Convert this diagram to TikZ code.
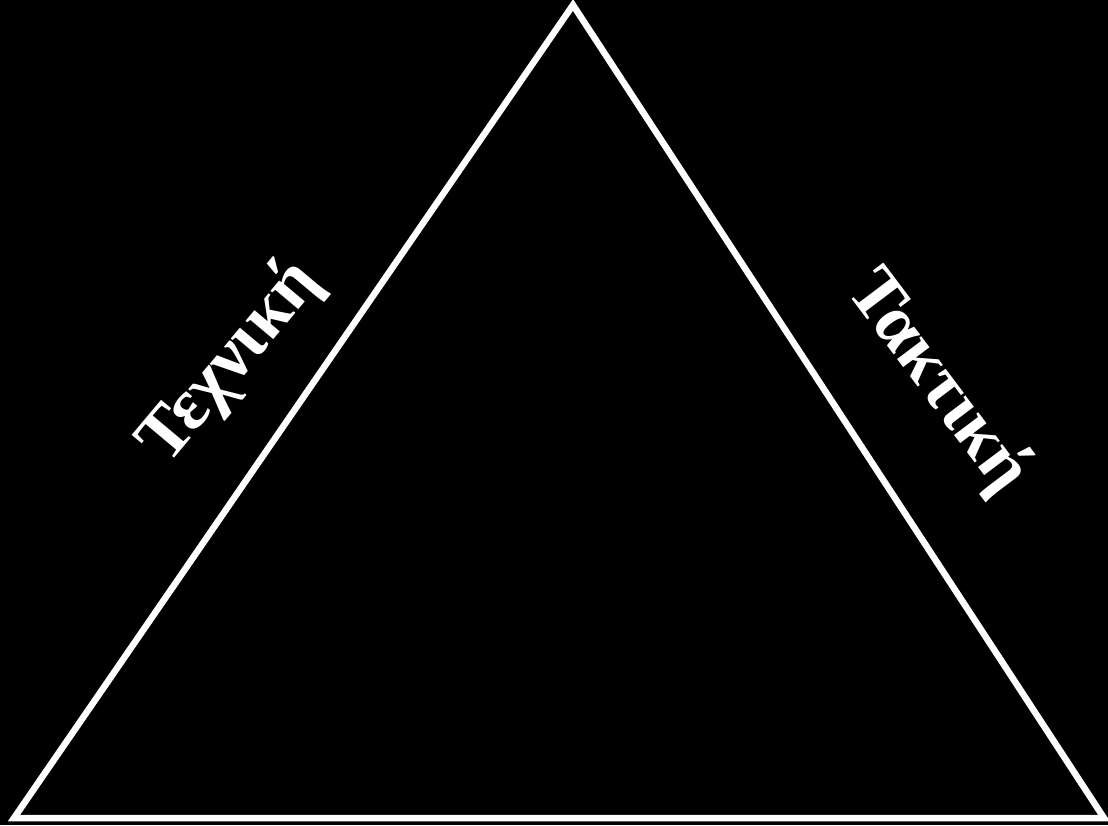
\documentclass[tikz,border=0pt]{standalone}
\usepackage{fontspec}
\setmainfont{Liberation Serif}
\begin{document}
\begin{tikzpicture}[x=1pt,y=-1pt,
  side/.style={draw=white,line width=6.5pt,line join=miter},
  lbl/.style={text=white,font=\fontsize{72}{86}\selectfont\bfseries,inner sep=0pt}]
\fill[black] (0,0) rectangle (1108,825);
\useasboundingbox (0,0) rectangle (1108,825);
\coordinate (A) at (573,5);
\coordinate (B) at (14,818);
\coordinate (C) at (1104,818);
\draw[side] (A) -- (B) -- (C) -- cycle;
\node[lbl,rotate=50] (t1) at (230,362) {Τεχνική};
\node[lbl,rotate=-53] (t2) at (938,382) {Τακτική};
\end{tikzpicture}
\end{document}
